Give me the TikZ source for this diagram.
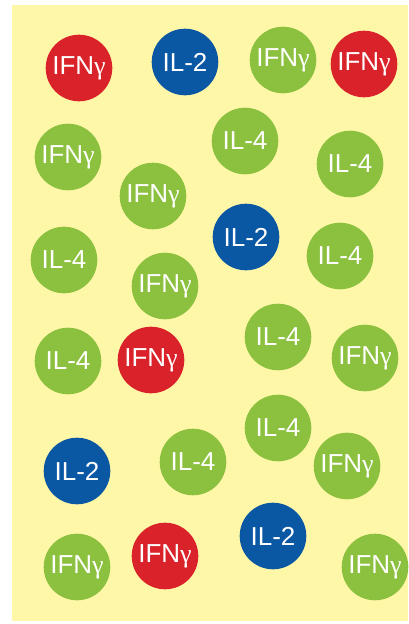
\documentclass[tikz,border=0pt]{standalone}
\usepackage{fontspec}
\setmainfont{Liberation Sans}
\newfontfamily\gfont{Liberation Serif}
\definecolor{bgyel}{HTML}{FFF7A8}
\definecolor{cred}{HTML}{D92229}
\definecolor{cblue}{HTML}{0A57A3}
\definecolor{cgreen}{HTML}{8CC13F}
\newcommand{\ifng}{IFN{\gfont γ}}
\tikzset{
  mol/.style={circle, minimum size=66.6pt, inner sep=0pt, text=white,
    font=\fontsize{26}{26}\selectfont},
  redm/.style={mol, fill=cred},
  bluem/.style={mol, fill=cblue},
  greenm/.style={mol, fill=cgreen}
}
\begin{document}
\begin{tikzpicture}[x=1pt,y=-1pt]
\useasboundingbox (0,0) rectangle (408,624);
\fill[white] (0,0) rectangle (408,624);
\fill[bgyel] (12,5) rectangle (408,621);
% row 1
\node[redm]   (r1) at (79,68)  {\ifng};
\node[bluem]  (b1) at (185,62) {IL-2};
\node[greenm] (g1) at (283,60) {\ifng};
\node[redm]   (r2) at (364,64) {\ifng};
% row 2
\node[greenm] (g2) at (68,157)  {\ifng};
\node[greenm] (g3) at (245,141) {IL-4};
\node[greenm] (g4) at (350,164) {IL-4};
\node[greenm] (g5) at (153,196) {\ifng};
% row 3
\node[bluem]  (b2) at (246,237) {IL-2};
\node[greenm] (g6) at (64,260)  {IL-4};
\node[greenm] (g7) at (340,256) {IL-4};
\node[greenm] (g8) at (165,286) {\ifng};
% row 4
\node[greenm] (g9)  at (68,361)  {IL-4};
\node[redm]   (r3)  at (151,360) {\ifng};
\node[greenm] (g10) at (278,337) {IL-4};
\node[greenm] (g11) at (365,358) {\ifng};
% row 5
\node[greenm] (g12) at (278,428) {IL-4};
\node[greenm] (g13) at (193,462) {IL-4};
\node[greenm] (g14) at (347,466) {\ifng};
\node[bluem]  (b3)  at (77,471)  {IL-2};
% row 6
\node[bluem]  (b4)  at (273,536) {IL-2};
\node[redm]   (r4)  at (165,556) {\ifng};
\node[greenm] (g15) at (77,567)  {\ifng};
\node[greenm] (g16) at (375,567) {\ifng};
\end{tikzpicture}
\end{document}
